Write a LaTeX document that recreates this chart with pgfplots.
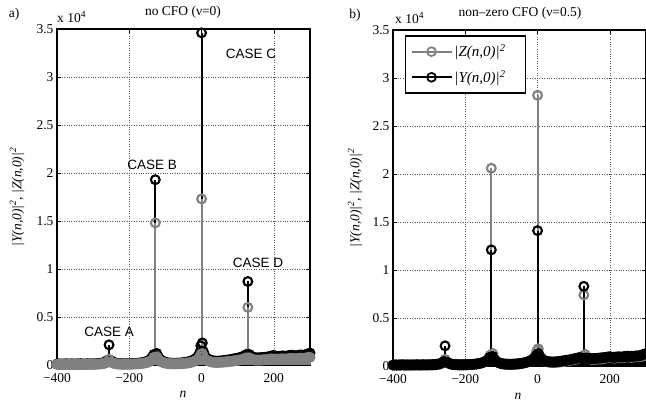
\documentclass[border=0pt]{standalone}
\usepackage{pgfplots}
\pgfplotsset{compat=1.18}
\usepackage{fontspec}
\setmainfont{Liberation Serif}
\newfontfamily\sansf{Liberation Sans}
\definecolor{mgray}{RGB}{128,128,128}
\newcommand{\fs}{\fontsize{13.5}{16}\selectfont}

\pgfplotsset{
  mystyle/.style={
    scale only axis,
    anchor=south west,
    xmin=-400, xmax=300, ymin=0, ymax=3.5,
    xtick={-400,-200,0,200},
    xticklabels={−400,−200,0,200},
    ytick={0,0.5,1,1.5,2,2.5,3,3.5},
    yticklabels={0,0.5,1,1.5,2,2.5,3,3.5},
    tick align=inside,
    major tick length=4pt,
    tick style={black, line width=0.7pt},
    grid=major,
    major grid style={dotted, gray!70!black, line width=0.7pt},
    axis line style={line width=1.5pt},
    every tick label/.append style={font=\fs},
    xticklabel style={yshift=-5pt},
    clip=false,
  },
  stemY/.style={ycomb, black, line width=2.1pt, mark=o, mark size=4.4pt},
  stemZ/.style={ycomb, mgray, line width=2.1pt, mark=o, mark size=4.4pt},
}

\begin{document}
\begin{tikzpicture}
\useasboundingbox (0,0) rectangle (646pt,404pt);
% ---------- left panel
\begin{axis}[mystyle, at={(57pt,39pt)}, width=253pt, height=336pt]
\addplot[stemY] coordinates {
(-400,0.010)(-395,0.012)(-390,0.009)(-385,0.011)(-380,0.010)(-375,0.013)(-370,0.011)(-365,0.010)(-360,0.012)(-355,0.011)
(-350,0.010)(-345,0.012)(-340,0.011)(-335,0.013)(-330,0.012)(-325,0.010)(-320,0.011)(-315,0.013)(-310,0.012)(-305,0.011)
(-300,0.013)(-295,0.012)(-290,0.014)(-285,0.015)(-280,0.017)(-275,0.020)(-270,0.025)(-265,0.035)(-260,0.050)(-256,0.210)
(-250,0.045)(-245,0.030)(-240,0.022)(-235,0.018)(-230,0.015)(-225,0.014)(-220,0.013)(-215,0.012)(-210,0.013)(-205,0.012)
(-200,0.013)(-195,0.014)(-190,0.015)(-185,0.016)(-180,0.017)(-175,0.019)(-170,0.021)(-165,0.024)(-160,0.028)(-155,0.034)
(-150,0.040)(-145,0.050)(-140,0.065)(-135,0.090)(-132,0.110)(-128,1.930)(-124,0.120)(-120,0.085)(-115,0.060)(-110,0.045)
(-105,0.035)(-100,0.028)(-95,0.024)(-90,0.021)(-85,0.019)(-80,0.018)(-75,0.017)(-70,0.018)(-65,0.019)(-60,0.020)
(-55,0.022)(-50,0.024)(-45,0.027)(-40,0.030)(-35,0.035)(-30,0.040)(-25,0.048)(-20,0.058)(-15,0.070)(-10,0.090)
(-5,0.130)(-2,0.200)(0,3.460)(2,0.230)(5,0.140)(10,0.090)(15,0.070)(20,0.058)(25,0.050)(30,0.045)
(35,0.042)(40,0.040)(45,0.040)(50,0.041)(55,0.043)(60,0.045)(65,0.048)(70,0.050)(75,0.053)(80,0.056)
(85,0.060)(90,0.064)(95,0.068)(100,0.072)(105,0.076)(110,0.080)(115,0.090)(120,0.100)(124,0.110)(128,0.870)
(132,0.110)(135,0.095)(140,0.085)(145,0.078)(150,0.075)(155,0.074)(160,0.075)(165,0.077)(170,0.078)(175,0.080)
(180,0.082)(185,0.085)(190,0.090)(195,0.095)(200,0.100)(205,0.092)(210,0.088)(215,0.090)(220,0.092)(225,0.095)
(230,0.090)(235,0.093)(240,0.097)(245,0.100)(250,0.102)(255,0.098)(260,0.095)(265,0.098)(270,0.102)(275,0.105)
(280,0.100)(285,0.104)(290,0.110)(295,0.115)(300,0.125)
};
\addplot[stemZ] coordinates {
(-400,0.006)(-395,0.008)(-390,0.006)(-385,0.007)(-380,0.007)(-375,0.008)(-370,0.007)(-365,0.006)(-360,0.008)(-355,0.007)
(-350,0.006)(-345,0.008)(-340,0.007)(-335,0.008)(-330,0.008)(-325,0.007)(-320,0.007)(-315,0.008)(-310,0.008)(-305,0.007)
(-300,0.009)(-295,0.008)(-290,0.009)(-285,0.010)(-280,0.011)(-275,0.013)(-270,0.016)(-265,0.022)(-260,0.032)(-256,0.060)
(-250,0.030)(-245,0.020)(-240,0.015)(-235,0.012)(-230,0.010)(-225,0.009)(-220,0.009)(-215,0.008)(-210,0.009)(-205,0.008)
(-200,0.009)(-195,0.009)(-190,0.010)(-185,0.011)(-180,0.012)(-175,0.013)(-170,0.014)(-165,0.016)(-160,0.019)(-155,0.023)
(-150,0.027)(-145,0.034)(-140,0.045)(-135,0.060)(-132,0.080)(-128,1.480)(-124,0.085)(-120,0.060)(-115,0.042)(-110,0.031)
(-105,0.024)(-100,0.019)(-95,0.016)(-90,0.014)(-85,0.013)(-80,0.012)(-75,0.012)(-70,0.012)(-65,0.013)(-60,0.014)
(-55,0.015)(-50,0.016)(-45,0.018)(-40,0.020)(-35,0.023)(-30,0.027)(-25,0.032)(-20,0.039)(-15,0.047)(-10,0.060)
(-5,0.085)(-2,0.110)(0,1.730)(2,0.120)(5,0.090)(10,0.060)(15,0.047)(20,0.039)(25,0.034)(30,0.030)
(35,0.028)(40,0.027)(45,0.027)(50,0.028)(55,0.029)(60,0.030)(65,0.032)(70,0.034)(75,0.036)(80,0.038)
(85,0.040)(90,0.043)(95,0.046)(100,0.049)(105,0.052)(110,0.055)(115,0.060)(120,0.068)(124,0.075)(128,0.600)
(132,0.075)(135,0.065)(140,0.058)(145,0.053)(150,0.051)(155,0.050)(160,0.051)(165,0.052)(170,0.053)(175,0.055)
(180,0.056)(185,0.058)(190,0.061)(195,0.064)(200,0.062)(205,0.062)(210,0.060)(215,0.061)(220,0.063)(225,0.064)
(230,0.061)(235,0.063)(240,0.066)(245,0.068)(250,0.069)(255,0.066)(260,0.065)(265,0.067)(270,0.069)(275,0.071)
(280,0.068)(285,0.070)(290,0.075)(295,0.078)(300,0.080)
};
\node[font=\sansf\fs] at (axis cs:-256,0.35) {CASE A};
\node[font=\sansf\fs] at (axis cs:-137,2.08) {CASE B};
\node[font=\sansf\fs] at (axis cs:137,3.24) {CASE C};
\node[font=\sansf\fs] at (axis cs:156,1.06) {CASE D};
\end{axis}
% ---------- right panel
\begin{axis}[mystyle, at={(393pt,38pt)}, width=253pt, height=336pt,
  legend cell align=left,
  legend style={at={(0.047,0.985)}, anchor=north west, draw=black, line width=1.5pt,
    fill=white, font=\itshape\fontsize{15}{17}\selectfont, row sep=8pt,
    inner xsep=5pt, inner ysep=7pt},
  legend image code/.code={\draw[mark repeat=2, mark phase=2, line width=1.8pt] plot coordinates {(0pt,0pt) (20pt,0pt) (40pt,0pt)};},
]
\addlegendimage{mgray, mark=o, mark size=4.4pt}
\addlegendentry{\makebox[64pt][l]{|Z(n,0)|\textsuperscript{2}}}
\addlegendimage{black, mark=o, mark size=4.4pt}
\addlegendentry{\makebox[64pt][l]{|Y(n,0)|\textsuperscript{2}}}
\addplot[stemZ, forget plot] coordinates {
(-400,0.008)(-395,0.010)(-390,0.008)(-385,0.009)(-380,0.009)(-375,0.010)(-370,0.009)(-365,0.008)(-360,0.010)(-355,0.009)
(-350,0.008)(-345,0.010)(-340,0.009)(-335,0.010)(-330,0.010)(-325,0.009)(-320,0.009)(-315,0.010)(-310,0.010)(-305,0.009)
(-300,0.011)(-295,0.010)(-290,0.011)(-285,0.012)(-280,0.013)(-275,0.016)(-270,0.020)(-265,0.028)(-260,0.040)(-256,0.070)
(-250,0.036)(-245,0.025)(-240,0.018)(-235,0.015)(-230,0.013)(-225,0.012)(-220,0.011)(-215,0.010)(-210,0.011)(-205,0.010)
(-200,0.011)(-195,0.012)(-190,0.013)(-185,0.014)(-180,0.015)(-175,0.017)(-170,0.019)(-165,0.022)(-160,0.026)(-155,0.031)
(-150,0.037)(-145,0.046)(-140,0.060)(-135,0.085)(-132,0.110)(-128,2.060)(-124,0.130)(-120,0.080)(-115,0.055)(-110,0.040)
(-105,0.031)(-100,0.025)(-95,0.021)(-90,0.019)(-85,0.017)(-80,0.016)(-75,0.016)(-70,0.016)(-65,0.017)(-60,0.018)
(-55,0.020)(-50,0.022)(-45,0.025)(-40,0.028)(-35,0.032)(-30,0.037)(-25,0.044)(-20,0.053)(-15,0.065)(-10,0.085)
(-5,0.120)(-2,0.160)(0,2.820)(2,0.180)(5,0.120)(10,0.085)(15,0.065)(20,0.053)(25,0.046)(30,0.041)
(35,0.038)(40,0.036)(45,0.036)(50,0.037)(55,0.039)(60,0.041)(65,0.044)(70,0.046)(75,0.049)(80,0.052)
(85,0.055)(90,0.059)(95,0.063)(100,0.067)(105,0.071)(110,0.075)(115,0.085)(120,0.095)(124,0.100)(128,0.740)
(132,0.120)(135,0.090)(140,0.080)(145,0.073)(150,0.070)(155,0.069)(160,0.070)(165,0.072)(170,0.073)(175,0.075)
(180,0.077)(185,0.080)(190,0.084)(195,0.088)(200,0.090)(205,0.086)(210,0.083)(215,0.085)(220,0.087)(225,0.090)
(230,0.086)(235,0.088)(240,0.091)(245,0.094)(250,0.096)(255,0.092)(260,0.090)(265,0.093)(270,0.096)(275,0.099)
(280,0.095)(285,0.098)(290,0.103)(295,0.108)(300,0.115)
};
\addplot[stemY, forget plot] coordinates {
(-400,0.010)(-395,0.012)(-390,0.010)(-385,0.011)(-380,0.011)(-375,0.013)(-370,0.012)(-365,0.010)(-360,0.012)(-355,0.011)
(-350,0.011)(-345,0.012)(-340,0.011)(-335,0.013)(-330,0.012)(-325,0.011)(-320,0.012)(-315,0.013)(-310,0.012)(-305,0.012)
(-300,0.013)(-295,0.013)(-290,0.014)(-285,0.015)(-280,0.017)(-275,0.020)(-270,0.024)(-265,0.032)(-260,0.045)(-256,0.210)
(-250,0.040)(-245,0.028)(-240,0.021)(-235,0.017)(-230,0.015)(-225,0.014)(-220,0.013)(-215,0.013)(-210,0.013)(-205,0.013)
(-200,0.014)(-195,0.014)(-190,0.015)(-185,0.016)(-180,0.017)(-175,0.019)(-170,0.021)(-165,0.024)(-160,0.028)(-155,0.033)
(-150,0.038)(-145,0.046)(-140,0.057)(-135,0.075)(-132,0.090)(-128,1.210)(-124,0.100)(-120,0.070)(-115,0.050)(-110,0.038)
(-105,0.030)(-100,0.025)(-95,0.022)(-90,0.020)(-85,0.019)(-80,0.018)(-75,0.018)(-70,0.019)(-65,0.020)(-60,0.021)
(-55,0.023)(-50,0.025)(-45,0.028)(-40,0.031)(-35,0.035)(-30,0.040)(-25,0.046)(-20,0.054)(-15,0.064)(-10,0.078)
(-5,0.100)(-2,0.110)(0,1.410)(2,0.130)(5,0.100)(10,0.078)(15,0.064)(20,0.055)(25,0.049)(30,0.045)
(35,0.043)(40,0.042)(45,0.042)(50,0.043)(55,0.045)(60,0.047)(65,0.050)(70,0.053)(75,0.056)(80,0.059)
(85,0.062)(90,0.066)(95,0.070)(100,0.074)(105,0.078)(110,0.082)(115,0.086)(120,0.085)(124,0.080)(128,0.830)
(132,0.080)(135,0.082)(140,0.080)(145,0.078)(150,0.077)(155,0.077)(160,0.078)(165,0.080)(170,0.082)(175,0.084)
(180,0.086)(185,0.088)(190,0.091)(195,0.094)(200,0.096)(205,0.092)(210,0.090)(215,0.092)(220,0.094)(225,0.096)
(230,0.093)(235,0.095)(240,0.098)(245,0.100)(250,0.102)(255,0.099)(260,0.102)(265,0.100)(270,0.103)(275,0.106)
(280,0.104)(285,0.108)(290,0.118)(295,0.122)(300,0.130)
};
\end{axis}
% ---------- texts outside axes
\node[font=\fs] at (14pt,390pt) {a)};
\node[font=\fs] at (183pt,392pt) {no CFO (ν=0)};
\node[font=\fs, anchor=west, inner sep=0pt] at (57pt,387pt) {x 10\textsuperscript{4}};
\node[font=\fs] at (355pt,389pt) {b)};
\node[font=\fs] at (520pt,391pt) {non\textendash zero CFO (ν=0.5)};
\node[font=\fs, anchor=west, inner sep=0pt] at (395pt,386pt) {x 10\textsuperscript{4}};
\node[font=\itshape\fs] at (183pt,10pt) {n};
\node[font=\itshape\fs] at (518pt,8pt) {n};
\node[font=\itshape\fs, rotate=90] at (17pt,207pt) {|Y(n,0)|\textsuperscript{2}, |Z(n,0)|\textsuperscript{2}};
\node[font=\itshape\fs, rotate=90] at (355pt,206pt) {|Y(n,0)|\textsuperscript{2}, |Z(n,0)|\textsuperscript{2}};
\end{tikzpicture}
\end{document}
